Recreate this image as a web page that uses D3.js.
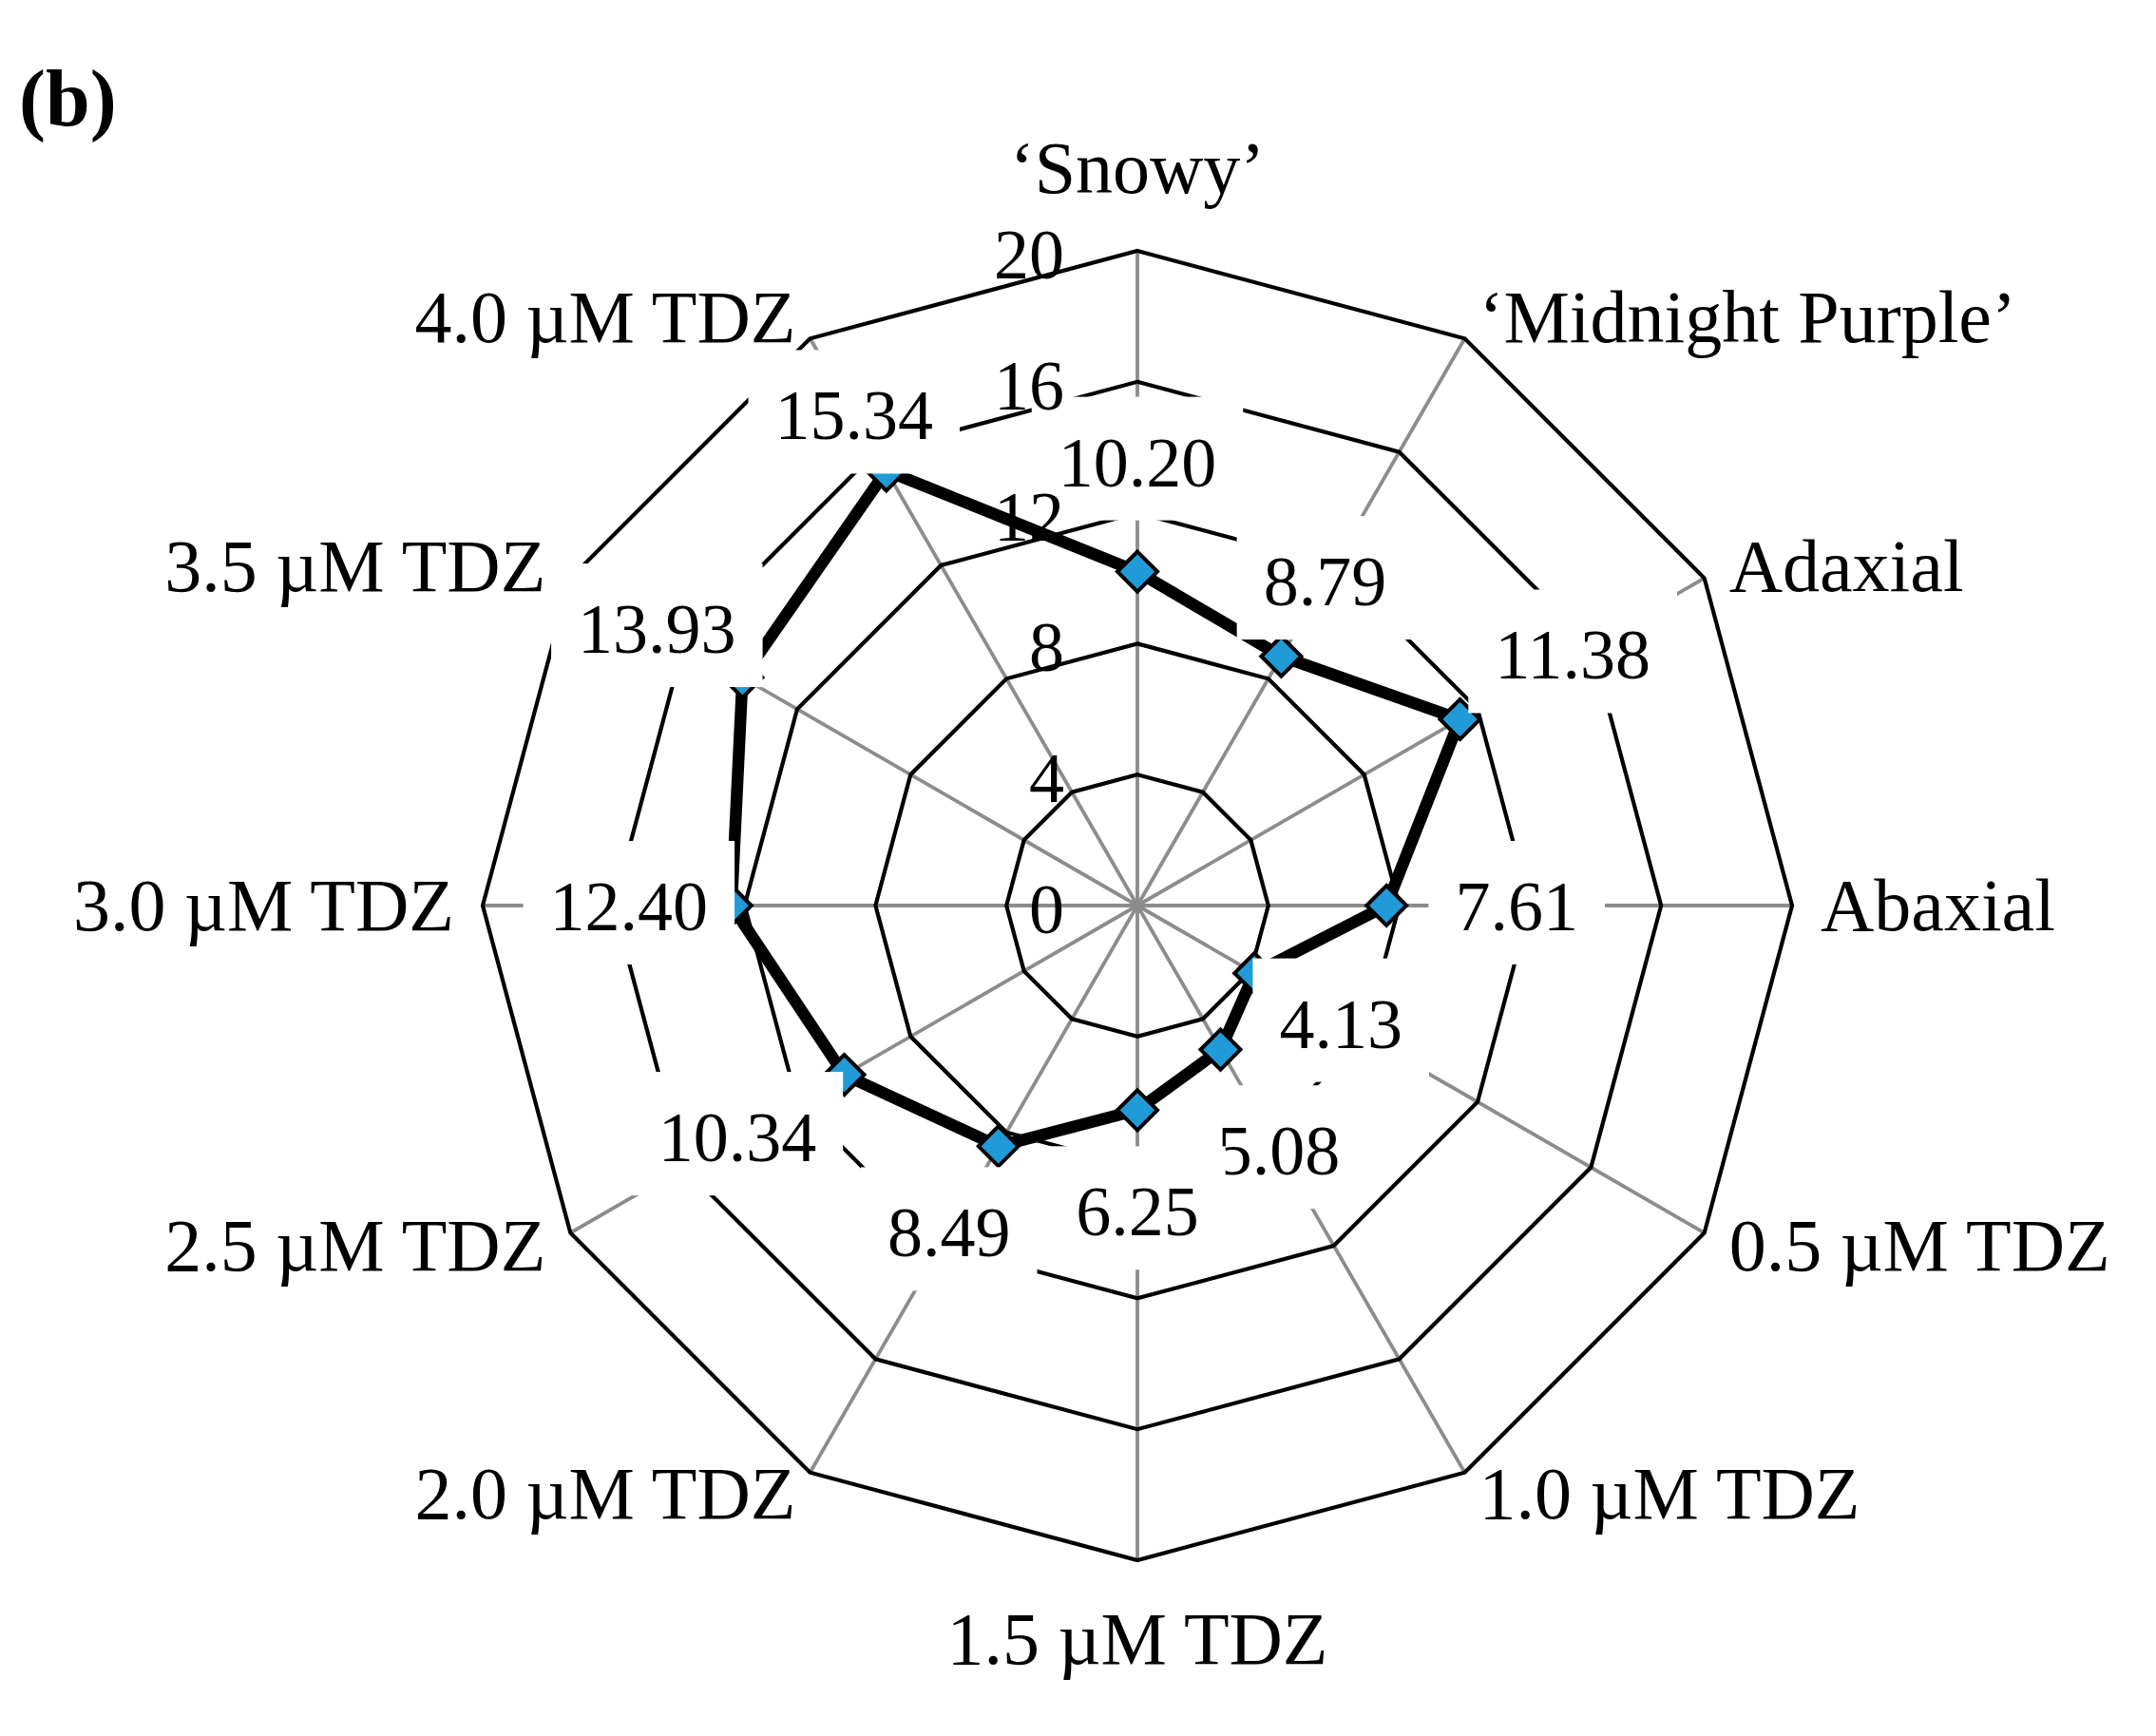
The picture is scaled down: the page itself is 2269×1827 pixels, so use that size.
<!DOCTYPE html>
<html>
<head>
<meta charset="utf-8">
<script src="https://cdn.jsdelivr.net/npm/d3@7"></script>
<style>
  html, body { margin: 0; padding: 0; background: #ffffff; }
  svg { display: block; }
</style>
</head>
<body>
<svg id="chart" width="2269" height="1827"></svg>
<script>
// ---------------- data ----------------
const categories = ["\u2018Snowy\u2019", "\u2018Midnight Purple\u2019", "Adaxial", "Abaxial",
  "0.5 \u00B5M TDZ", "1.0 \u00B5M TDZ", "1.5 \u00B5M TDZ", "2.0 \u00B5M TDZ",
  "2.5 \u00B5M TDZ", "3.0 \u00B5M TDZ", "3.5 \u00B5M TDZ", "4.0 \u00B5M TDZ"];
const values = [10.20, 8.79, 11.38, 7.61, 4.13, 5.08, 6.25, 8.49, 10.34, 12.40, 13.93, 15.34];
const valueLabels = ["10.20", "8.79", "11.38", "7.61", "4.13", "5.08", "6.25", "8.49", "10.34", "12.40", "13.93", "15.34"];
const tickValues = [0, 4, 8, 12, 16, 20];
const tickLabels = ["0", "4", "8", "12", "16", "20"];
const panelLabel = "(b)";

// ---------------- layout ----------------
const W = 2269, H = 1827;
const cx = 1197, cy = 953, R = 689;
const labelOffsets = [116, 92, 137, 137, 105, 122, 106, 104, 130, 108, 104, 68]; // px beyond point, along axis
const FONT = "'Liberation Serif', 'Times New Roman', serif";
const dataFont = 74, catFont = 78, tickFont = 74;

const svg = d3.select("#chart");
svg.append("rect").attr("width", W).attr("height", H).attr("fill", "#ffffff");
const g = svg.append("g").attr("transform", `translate(${cx},${cy})`);

const n = categories.length;
const angle = d3.scaleLinear().domain([0, n]).range([0, 2 * Math.PI]);
const r = d3.scaleLinear().domain([0, 20]).range([0, R]);
const px = (i, rad) => rad * Math.sin(angle(i));
const py = (i, rad) => -rad * Math.cos(angle(i));

// spokes
g.append("g").selectAll("line").data(d3.range(n)).join("line")
  .attr("x1", 0).attr("y1", 0)
  .attr("x2", i => px(i, r(20))).attr("y2", i => py(i, r(20)))
  .attr("stroke", "#8c8c8c").attr("stroke-width", 3.8);

// rings
const ringLine = d3.lineRadial().curve(d3.curveLinearClosed)
  .angle(d => angle(d.i)).radius(d => r(d.v));
g.append("g").selectAll("path").data(tickValues.filter(t => t > 0)).join("path")
  .attr("d", t => ringLine(d3.range(n).map(i => ({ i, v: t }))))
  .attr("fill", "none").attr("stroke", "#000").attr("stroke-width", 4.2);

// data line
const dataLine = d3.lineRadial().curve(d3.curveLinearClosed)
  .angle((d, i) => angle(i)).radius(d => r(d));
g.append("path").attr("d", dataLine(values))
  .attr("fill", "none").attr("stroke", "#000").attr("stroke-width", 12.5)
  .attr("stroke-linejoin", "miter");

// markers
const ms = 21;
g.append("g").selectAll("path").data(values).join("path")
  .attr("transform", (d, i) => `translate(${px(i, r(d))},${py(i, r(d))})`)
  .attr("d", `M0,${-ms}L${ms},0L0,${ms}L${-ms},0Z`)
  .attr("fill", "#209bd8").attr("stroke", "#000").attr("stroke-width", 4);

// data labels with white boxes
const dl = g.append("g");
values.forEach((v, i) => {
  const rr = r(v) + labelOffsets[i];
  const x = px(i, rr), yc = py(i, rr);
  const base = yc + 26;
  const grp = dl.append("g");
  const rect = grp.append("rect").attr("fill", "#ffffff");
  const t = grp.append("text").attr("x", x).attr("y", base)
    .attr("text-anchor", "middle")
    .attr("font-family", FONT).attr("font-size", dataFont).attr("fill", "#000")
    .text(valueLabels[i]);
  const w = t.node().getComputedTextLength();
  rect.attr("x", x - w / 2 - 28).attr("width", w + 56)
    .attr("y", base - 94).attr("height", 130);
});

// category labels
const cl = g.append("g");
categories.forEach((c, i) => {
  const a = angle(i);
  const s = Math.sin(a), co = Math.cos(a);
  const vx = px(i, R), vy = py(i, R);
  let anchor, x, base;
  if (Math.abs(s) < 0.01) {
    anchor = "middle"; x = vx;
    base = co > 0 ? vy - 61 : vy + 109;
  } else {
    anchor = s > 0 ? "start" : "end";
    x = vx + 30 * s;
    base = vy - 26 * co + 26;
  }
  cl.append("text").attr("x", x).attr("y", base)
    .attr("text-anchor", anchor)
    .attr("font-family", FONT).attr("font-size", catFont).attr("fill", "#000")
    .text(c);
});

// tick labels along the top axis
g.append("g").selectAll("text").data(tickValues).join("text")
  .attr("x", -77).attr("y", d => -r(d) + 29)
  .attr("text-anchor", "end")
  .attr("font-family", FONT).attr("font-size", tickFont).attr("fill", "#000")
  .text((d, i) => tickLabels[i]);

// panel label
svg.append("text").attr("x", 20).attr("y", 132)
  .attr("font-family", FONT).attr("font-size", 84).attr("font-weight", "bold")
  .attr("fill", "#000").text(panelLabel);
</script>
</body>
</html>
